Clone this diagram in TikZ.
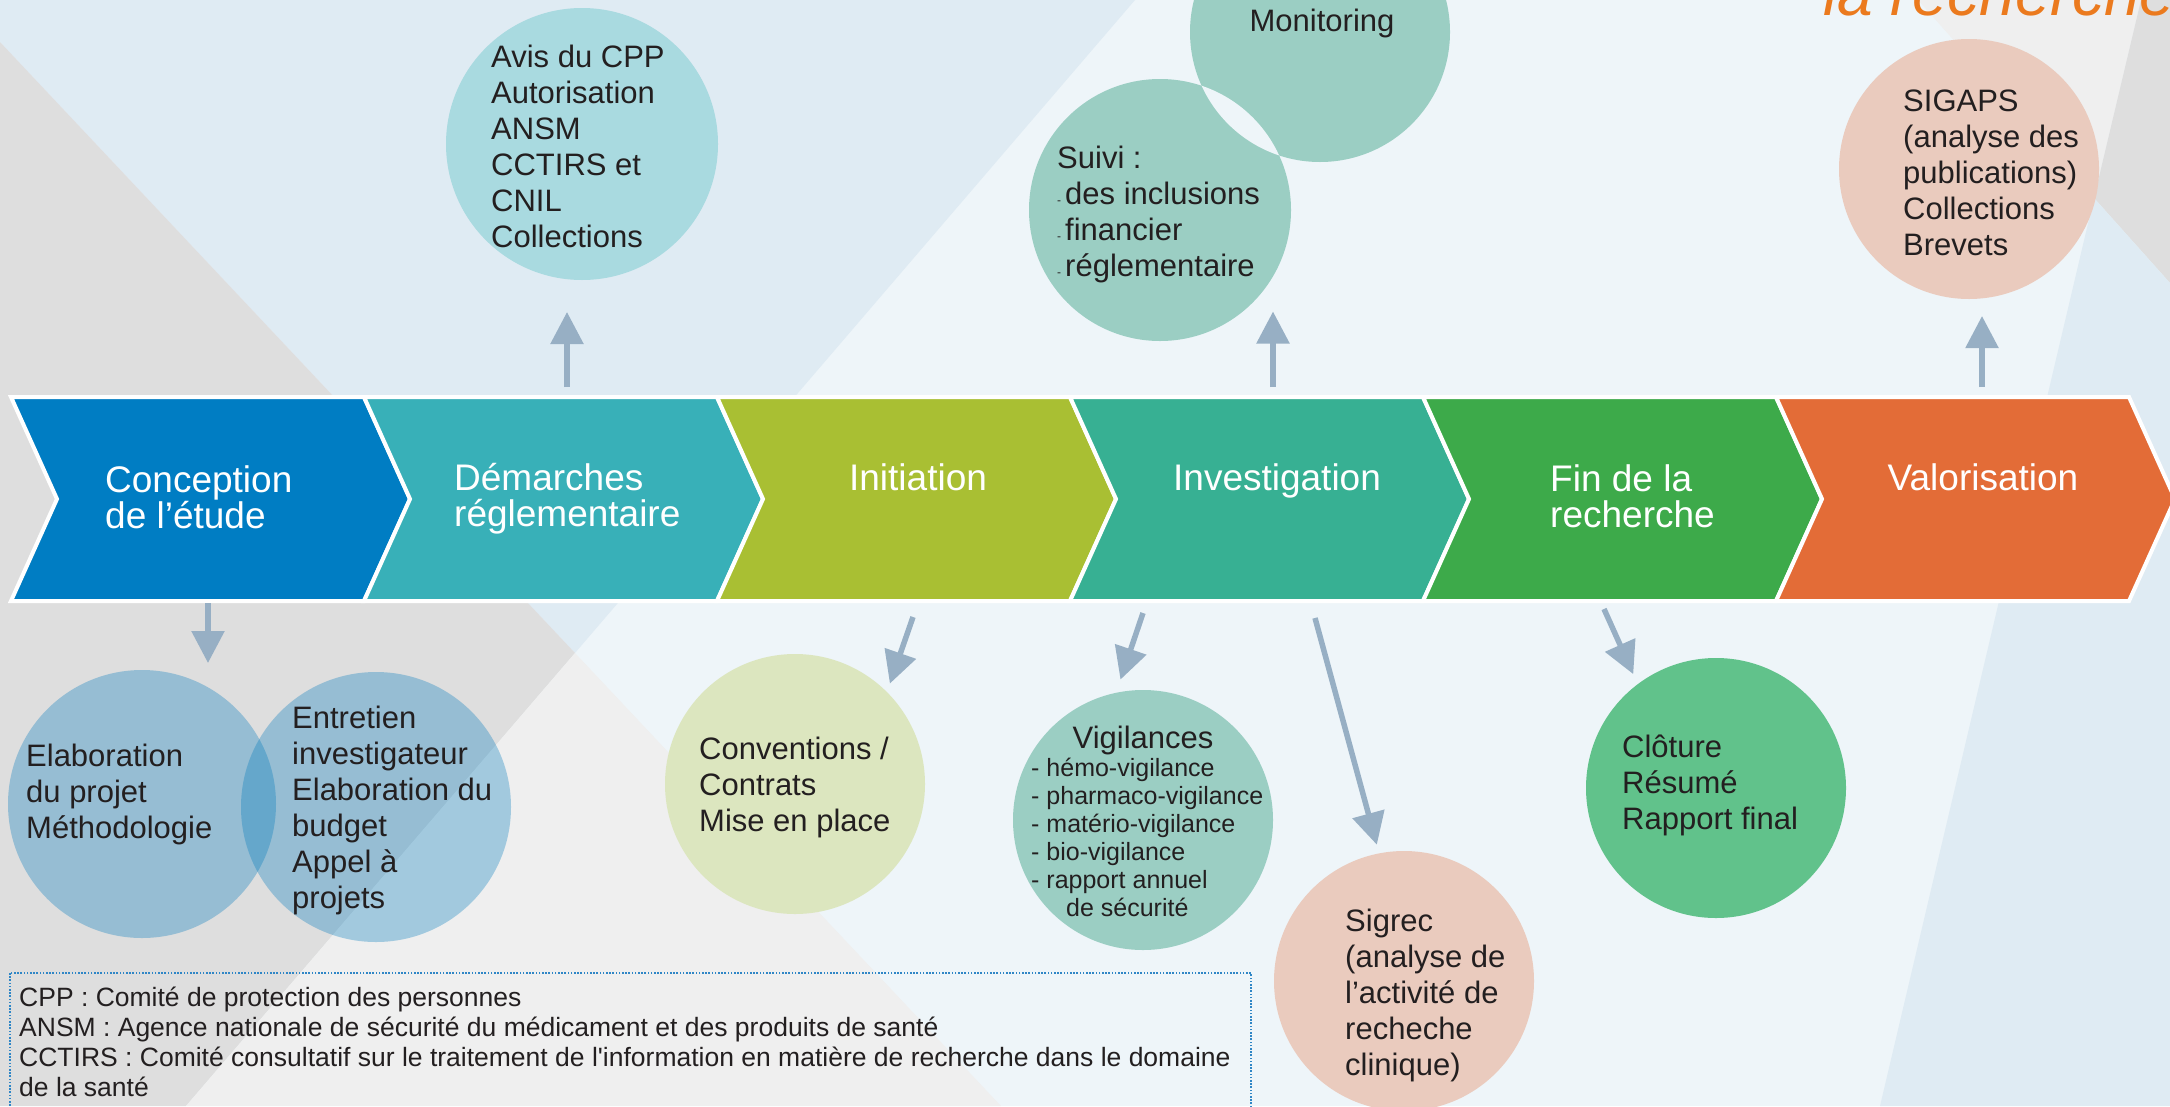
\documentclass[tikz,border=0pt]{standalone}
\usepackage{fontspec}
\setmainfont{Liberation Sans}
\usetikzlibrary{arrows.meta}

\definecolor{bgpale}{HTML}{EEF5F9}
\definecolor{bgblue}{HTML}{DFEBF3}
\definecolor{bggray}{HTML}{DEDEDE}
\definecolor{bglight}{HTML}{EFEFEF}
\definecolor{arrowc}{HTML}{97AFC4}
\definecolor{ink}{HTML}{231F20}
\definecolor{conc}{HTML}{007DC3}
\definecolor{dem}{HTML}{38B0B8}
\definecolor{init}{HTML}{A9BF33}
\definecolor{inv}{HTML}{37B093}
\definecolor{fin}{HTML}{3DAA4A}
\definecolor{valo}{HTML}{E36C37}
\definecolor{avisc}{HTML}{A9DAE0}
\definecolor{suivic}{HTML}{9BCEC3}
\definecolor{elabc}{HTML}{007ABD}
\definecolor{convc}{HTML}{DCE6BF}
\definecolor{sigrecc}{HTML}{EACBBE}
\definecolor{clotc}{HTML}{61C28B}
\definecolor{titlec}{HTML}{EB7A1E}
\definecolor{legc}{HTML}{2F86C6}

\newcommand{\fsz}[2]{\fontsize{#1}{#2}\selectfont}
\newcommand{\smalldash}{{\fsz{12}{12}-}\hspace{4pt}}

\begin{document}
\begin{tikzpicture}[x=1pt, y=-1pt,
    bubble/.style={circle, inner sep=0, outer sep=0, minimum size=260pt},
    txt/.style={font=\fsz{31}{36}, text=ink, align=left, inner sep=0, anchor=west},
    phase/.style={font=\fsz{37}{36}, text=white, align=left, inner sep=0},
    flow/.style={draw=arrowc, line width=5.5pt, -{Triangle[length=32pt,width=32pt]}},
    legline/.style={draw=legc, line width=2pt, dash pattern=on 1.6pt off 1.6pt}]
    \clip (0,0) rectangle (2170,1106);

    % background
    \fill[bgpale] (0,0) rectangle (2170,1106);
    \fill[bgblue] (0,0) -- (1135,0) -- (575,653) -- (0,42) -- cycle;
    \fill[bggray] (0,42) -- (575,653) -- (186,1106) -- (0,1106) -- cycle;
    \fill[bglight] (575,653) -- (1001,1106) -- (186,1106) -- cycle;
    \fill[bglight] (1918,0) -- (2141,0) -- (2094,198) -- cycle;
    \fill[bggray] (2141,0) -- (2170,0) -- (2170,283) -- (2094,198) -- cycle;
    \fill[bgblue] (2094,198) -- (2170,283) -- (2170,1106) -- (1880,1106) -- cycle;

    \node[font=\fsz{64}{64}\itshape, text=titlec, anchor=base west, inner sep=0] (titleT) at (1823,15) {la recherche};

    % circles
    \node[bubble, fill=avisc, minimum size=272pt] (avis) at (582,144) {};
    \node[bubble, fill=suivic] (monit) at (1320,32) {};
    \node[bubble, fill=suivic, minimum size=262pt] (suivi) at (1160,210) {};
    \begin{scope}
        \clip (monit.center) circle (130pt);
        \fill[bgpale] (suivi.center) circle (131pt);
    \end{scope}
    \node[bubble, fill=elabc, fill opacity=0.32, minimum size=268pt] (elab) at (142,804) {};
    \node[bubble, fill=elabc, fill opacity=0.32, minimum size=270pt] (entr) at (376,807) {};
    \node[bubble, fill=convc] (conv) at (795,784) {};
    \node[bubble, fill=suivic] (vigil) at (1143,820) {};
    \node[bubble, fill=sigrecc] (sigrec) at (1404,981) {};
    \node[bubble, fill=clotc] (clot) at (1716,788) {};
    \node[bubble, fill=sigrecc] (sigaps) at (1969,169) {};

    % chevrons
    \filldraw[fill=conc, draw=white, line width=4pt] (11,397) -- (364,397) -- (410,499) -- (364,601) -- (11,601) -- (57,499) -- cycle;
    \filldraw[fill=dem, draw=white, line width=4pt] (364,397) -- (717,397) -- (763,499) -- (717,601) -- (364,601) -- (410,499) -- cycle;
    \filldraw[fill=init, draw=white, line width=4pt] (717,397) -- (1070,397) -- (1116,499) -- (1070,601) -- (717,601) -- (763,499) -- cycle;
    \filldraw[fill=inv, draw=white, line width=4pt] (1070,397) -- (1423,397) -- (1469,499) -- (1423,601) -- (1070,601) -- (1116,499) -- cycle;
    \filldraw[fill=fin, draw=white, line width=4pt] (1423,397) -- (1776,397) -- (1822,499) -- (1776,601) -- (1423,601) -- (1469,499) -- cycle;
    \filldraw[fill=valo, draw=white, line width=4pt] (1776,397) -- (2129,397) -- (2175,499) -- (2129,601) -- (1776,601) -- (1822,499) -- cycle;

    \node[phase, anchor=west] (concT) at (105,497) {Conception\\de l’étude};
    \node[phase, anchor=west] (demT) at (454,499) {Démarches\\réglementaire};
    \node[phase] (initT) at (918,477) {Initiation};
    \node[phase] (invT) at (1277,481) {Investigation};
    \node[phase, anchor=west] (finT) at (1550,496) {Fin de la\\recherche};
    \node[phase] (valT) at (1983,477) {Valorisation};

    % arrows
    \coordinate (concA) at (208,603);
    \coordinate (demA) at (567,387);
    \coordinate (initA) at (913,617);
    \coordinate (invA) at (1273,387);
    \coordinate (invB) at (1143,613);
    \coordinate (invC) at (1315,618);
    \coordinate (finA) at (1604,609);
    \coordinate (valA) at (1982,387);
    \draw[flow, shorten >=32pt] (demA) -- (demA |- avis.south);
    \draw[flow, shorten >=36pt] (invA) -- (invA |- suivi.-30);
    \draw[flow, shorten >=17pt] (valA) -- (valA |- sigaps.south);
    \draw[flow, shorten >=7pt] (concA) -- (concA |- elab.north);
    \draw[flow, shorten >=9pt] (initA) -- (conv.45);
    \draw[flow, shorten >=14pt] (invB) -- (vigil.102);
    \draw[flow, shorten >=9pt] (invC) -- (sigrec.101);
    \draw[flow, shorten >=11pt] (finA) -- (clot.127);

    % texts
    \node[txt] (avisT) at (491,146) {Avis du CPP\\Autorisation\\ANSM\\CCTIRS et\\CNIL\\Collections};
    \node[txt, anchor=center] (monitT) at (1322,23) {Monitoring};
    \node[txt] (suiviT) at (1057,214) {Suivi :\\\smalldash des inclusions\\\smalldash financier\\\smalldash réglementaire};
    \node[txt] (elabT) at (26,794) {Elaboration\\du projet\\Méthodologie};
    \node[txt] (entrT) at (292,810) {Entretien\\investigateur\\Elaboration du\\budget\\Appel à\\projets};
    \node[txt] (convT) at (699,787) {Conventions /\\Contrats\\Mise en place};
    \node[txt, anchor=center] (vigilT) at (1143,740) {Vigilances};
    \node[txt, font=\fsz{25}{28}] (vigilL) at (1031,837) {- hémo-vigilance\\- pharmaco-vigilance\\- matério-vigilance\\- bio-vigilance\\- rapport annuel\\\hspace{35pt}de sécurité};
    \node[txt] (sigrecT) at (1345,995) {Sigrec\\(analyse de\\l’activité de\\recheche\\clinique)};
    \node[txt] (clotT) at (1622,785) {Clôture\\Résumé\\Rapport final};
    \node[txt] (sigapsT) at (1903,173) {SIGAPS\\(analyse des\\publications)\\Collections\\Brevets};

    % legend
    \draw[legline] (10,973) rectangle (1251,1130);
    \node[txt, font=\fsz{26.5}{30}] (legT) at (19,1042) {CPP : Comité de protection des personnes\\ANSM : Agence nationale de sécurité du médicament et des produits de santé\\CCTIRS : Comité consultatif sur le traitement de l\textquotesingle information en matière de recherche dans le domaine\\de la santé};
\end{tikzpicture}
\end{document}
